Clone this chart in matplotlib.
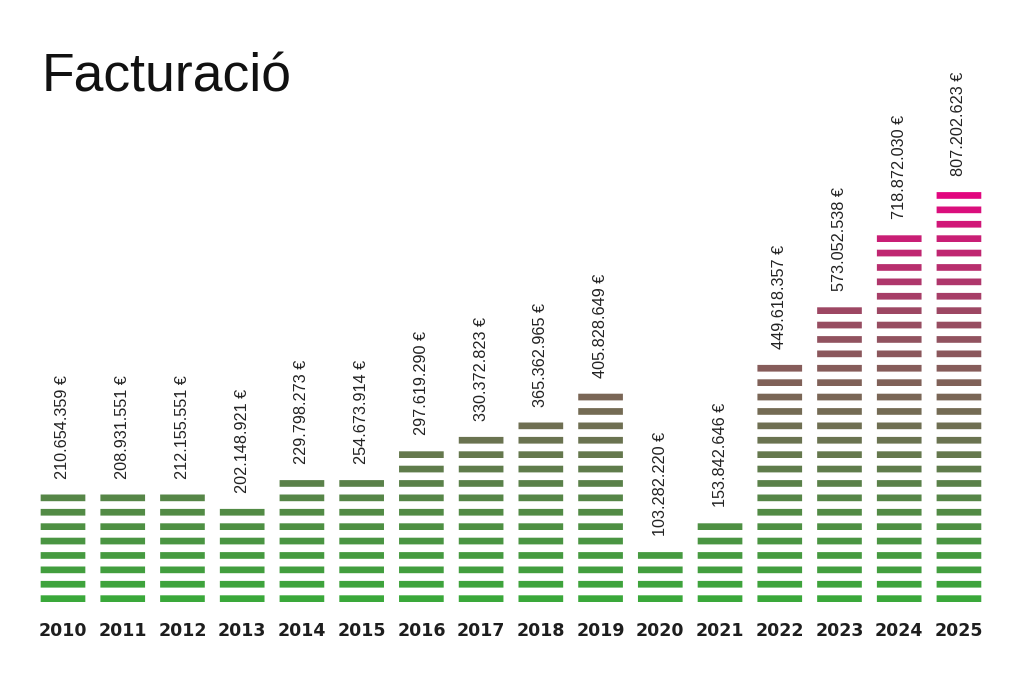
import matplotlib
matplotlib.use("Agg")
import matplotlib.pyplot as plt
from matplotlib.colors import LinearSegmentedColormap

years = ["2010", "2011", "2012", "2013", "2014", "2015", "2016", "2017",
         "2018", "2019", "2020", "2021", "2022", "2023", "2024", "2025"]
revenue = [210654359, 208931551, 212155551, 202148921, 229798273, 254673914,
           297619290, 330372823, 365362965, 405828649, 103282220, 153842646,
           449618357, 573052538, 718872030, 807202623]
# number of stripes drawn in each column
stripes = [8, 8, 8, 7, 9, 9, 11, 12, 13, 15, 4, 6, 17, 21, 26, 29]

labels = [f"{v:,}".replace(",", ".") + " €" for v in revenue]

cmap = LinearSegmentedColormap.from_list(
    "fact", [(0.0, "#3aa83a"), (0.3, "#5c7f4a"), (0.5, "#7a6656"),
             (0.7, "#9a4a62"), (1.0, "#e2067f")])
max_level = max(stripes)

fig = plt.figure(figsize=(10.24, 6.82), dpi=100)
ax = fig.add_axes([0, 0, 1, 1])
ax.set_xlim(-63 / 59.73, (1024 - 63) / 59.73)
ax.set_ylim(-80 / 14.4, (682 - 80) / 14.4)
ax.axis("off")

for level in range(max_level):
    xs = [i for i, n in enumerate(stripes) if n > level]
    col = cmap(level / (max_level - 1))
    bars = ax.bar(xs, [0.465] * len(xs), bottom=level, width=0.748,
                  color=col, align="center", linewidth=0)
    for b in bars:
        b.set_snap(False)

for i, (n, lab) in enumerate(zip(stripes, labels)):
    ax.annotate(lab, xy=(i, n - 1 + 0.465), xytext=(0, 11.5),
                textcoords="offset points", rotation=90,
                ha="center", va="bottom", fontsize=11.7,
                family="Liberation Sans", color="#222222")
    ax.text(i, -2.0, years[i], ha="center", va="center", fontsize=12.5,
            fontweight="bold", family="DejaVu Sans", color="#1e1e1e")

fig.text(42 / 1024, 1 - 92 / 682, "Facturació", fontsize=38.5,
         family="Liberation Sans", color="#111111", ha="left", va="baseline")

fig.savefig("out.png", dpi=100, facecolor="white")
